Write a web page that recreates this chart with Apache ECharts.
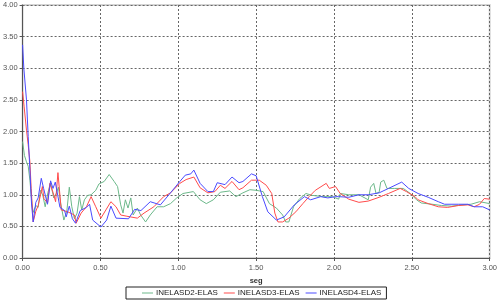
<!DOCTYPE html>
<html>
<head>
<meta charset="utf-8">
<script src="https://cdn.jsdelivr.net/npm/echarts@6/dist/echarts.min.js"></script>
<style>html,body{margin:0;padding:0;background:#fff}#c{width:500px;height:306px}</style>
</head>
<body>
<div id="c"></div>
<script>
const seriesNames = ['INELASD2-ELAS', 'INELASD3-ELAS', 'INELASD4-ELAS'];
const xTicks = [0, 0.5, 1, 1.5, 2, 2.5, 3];
const yTicks = [0, 0.5, 1, 1.5, 2, 2.5, 3, 3.5, 4];

const tGreen = [0,0.012,0.025,0.036,0.047,0.06,0.068,0.085,0.1,0.115,0.13,0.145,0.163,0.18,0.2,0.216,0.23,0.245,0.265,0.284,0.3,0.316,0.333,0.35,0.365,0.38,0.397,0.418,0.44,0.47,0.49,0.524,0.556,0.588,0.61,0.63,0.645,0.66,0.677,0.695,0.71,0.737,0.758,0.79,0.82,0.864,0.906,0.95,0.99,1.03,1.097,1.14,1.18,1.225,1.27,1.33,1.37,1.415,1.46,1.5,1.545,1.585,1.63,1.67,1.69,1.71,1.74,1.78,1.82,1.86,1.93,1.99,2.03,2.04,2.095,2.16,2.22,2.235,2.255,2.27,2.29,2.3,2.32,2.33,2.34,2.39,2.445,2.49,2.53,2.56,2.63,2.69,2.755,2.82,2.88,2.935,3.0];
const vGreen = [1.84,1.62,1.52,1.45,1.23,0.86,0.72,0.83,0.80,1.07,0.99,0.81,1.04,1.18,0.95,1.02,1.12,0.86,0.60,0.74,1.12,0.81,0.62,0.71,0.97,0.76,0.92,0.99,1.00,1.07,1.17,1.21,1.32,1.21,1.13,0.84,0.71,0.92,0.79,0.95,0.68,0.79,0.68,0.57,0.68,0.81,0.81,0.86,0.95,1.02,1.05,0.92,0.86,0.92,1.04,1.06,0.97,1.03,1.08,1.07,1.05,0.86,0.79,0.68,0.57,0.57,0.81,0.94,1.02,0.99,0.97,0.97,0.93,1.02,1.00,1.00,0.92,1.12,1.18,1.02,1.04,1.20,1.23,1.21,1.10,1.10,1.10,1.02,0.92,0.87,0.85,0.83,0.82,0.84,0.85,0.89,0.86];

const tRed = [0,0.01,0.025,0.036,0.047,0.055,0.068,0.085,0.1,0.115,0.127,0.137,0.16,0.175,0.195,0.212,0.227,0.248,0.29,0.333,0.344,0.376,0.41,0.44,0.47,0.503,0.535,0.567,0.6,0.63,0.67,0.737,0.78,0.843,0.906,0.95,1.01,1.05,1.1,1.14,1.19,1.235,1.27,1.3,1.345,1.39,1.415,1.47,1.52,1.565,1.6,1.62,1.64,1.67,1.71,1.755,1.8,1.84,1.88,1.95,1.97,2.01,2.04,2.095,2.16,2.22,2.29,2.35,2.425,2.465,2.52,2.54,2.605,2.67,2.73,2.8,2.86,2.9,2.935,2.965,3.0];
const vRed = [2.63,2.39,2.02,1.79,1.52,1.10,0.57,0.74,0.83,1.00,1.13,0.94,0.87,1.18,1.04,0.89,1.35,0.76,0.73,0.68,0.55,0.71,0.81,0.97,0.81,0.63,0.76,0.89,0.81,0.68,0.66,0.63,0.71,0.81,0.97,1.03,1.18,1.24,1.28,1.11,1.03,1.05,1.15,1.10,1.21,1.08,1.11,1.23,1.23,1.15,1.02,0.71,0.57,0.57,0.63,0.73,0.86,0.97,1.07,1.18,1.10,1.13,1.02,0.93,0.88,0.90,0.96,1.02,1.10,1.05,0.97,0.92,0.86,0.81,0.80,0.83,0.84,0.81,0.85,0.94,0.93];

const tBlue = [0,0.008,0.025,0.036,0.047,0.057,0.068,0.085,0.1,0.11,0.12,0.135,0.16,0.18,0.195,0.21,0.24,0.27,0.28,0.3,0.32,0.34,0.37,0.41,0.43,0.45,0.503,0.54,0.567,0.6,0.68,0.72,0.76,0.82,0.885,0.95,1.01,1.045,1.08,1.1,1.14,1.19,1.225,1.25,1.3,1.345,1.39,1.415,1.47,1.5,1.54,1.575,1.63,1.68,1.745,1.81,1.85,1.915,1.96,2.01,2.03,2.095,2.16,2.22,2.29,2.35,2.435,2.48,2.54,2.605,2.67,2.71,2.8,2.86,2.9,2.955,3.0];
const vBlue = [3.37,3.0,2.50,1.92,1.39,0.87,0.57,0.88,0.95,0.95,1.26,1.10,0.85,1.22,1.10,1.20,0.80,0.75,0.65,0.82,0.62,0.55,0.75,0.80,0.85,0.60,0.49,0.60,0.82,0.63,0.62,0.77,0.75,0.89,0.84,1.03,1.21,1.31,1.33,1.39,1.18,1.05,1.05,1.19,1.16,1.28,1.19,1.21,1.33,1.30,0.97,0.73,0.60,0.65,0.84,0.97,0.92,0.97,0.95,0.97,0.97,0.96,1.00,1.00,1.03,1.10,1.20,1.10,1.02,0.96,0.89,0.85,0.85,0.85,0.81,0.81,0.76];

const pairs = (t, v) => t.map((x, i) => [x, v[i]]);
const colors = ['#6cb88a', '#ff4b4b', '#4a4aff'];
const lbl = {color: '#555', fontSize: 7.5, fontFamily: 'Liberation Sans, Arial, sans-serif'};
const gridLine = {show: true, lineStyle: {color: '#666', type: [2, 2], width: 1}};

const chart = echarts.init(document.getElementById('c'), null, {renderer: 'canvas'});
chart.setOption({
  animation: false,
  color: colors,
  grid: {left: 21, right: 8, top: 5, bottom: 48, show: true, borderColor: '#d4d4d4', borderWidth: 2, backgroundColor: 'transparent'},
  xAxis: {
    type: 'value', min: 0, max: 3, interval: 0.5,
    name: 'seg', nameLocation: 'middle', nameGap: 19,
    nameTextStyle: {fontSize: 7.5, fontWeight: 'bold', color: '#333', fontFamily: 'Liberation Sans, Arial, sans-serif'},
    axisLine: {lineStyle: {color: '#555', width: 1}},
    axisTick: {show: true, length: 3, lineStyle: {color: '#555'}},
    axisLabel: Object.assign({margin: 6, formatter: v => v.toFixed(2)}, lbl),
    splitLine: gridLine
  },
  yAxis: {
    type: 'value', min: 0, max: 4, interval: 0.5,
    axisLine: {show: true, lineStyle: {color: '#555', width: 1}},
    axisTick: {show: true, length: 3, lineStyle: {color: '#555'}},
    axisLabel: Object.assign({margin: 5, formatter: v => v.toFixed(2)}, lbl),
    splitLine: gridLine
  },
  legend: {
    left: 126, top: 287, width: 300,
    orient: 'horizontal',
    padding: [2, 5, 2, 16],
    itemGap: 6,
    itemWidth: 11, itemHeight: 1,
    icon: 'rect',
    borderColor: '#222', borderWidth: 1,
    textStyle: {fontSize: 8, color: '#222', fontFamily: 'Liberation Sans, Arial, sans-serif', padding: [0, 0, 0, -2]},
    data: seriesNames
  },
  series: [
    {name: seriesNames[0], type: 'line', data: pairs(tGreen, vGreen), showSymbol: false, lineStyle: {width: 1}, z: 2},
    {name: seriesNames[1], type: 'line', data: pairs(tRed, vRed), showSymbol: false, lineStyle: {width: 1}, z: 3},
    {name: seriesNames[2], type: 'line', data: pairs(tBlue, vBlue), showSymbol: false, lineStyle: {width: 1}, z: 4}
  ]
});
</script>
</body>
</html>
